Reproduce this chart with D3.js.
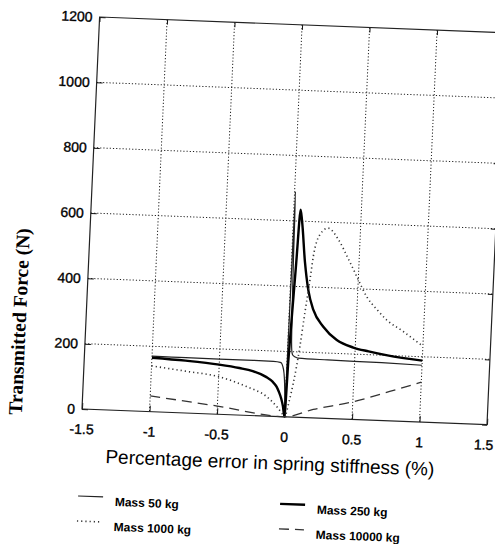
<!DOCTYPE html>
<html>
<head>
<meta charset="utf-8">
<script src="https://cdn.jsdelivr.net/npm/d3@7"></script>
<style>
body{margin:0;background:#fff;}
</style>
</head>
<body>
<svg id="chart" width="495" height="544"></svg>
<script>
var xTicks = [-1.5, -1, -0.5, 0, 0.5, 1, 1.5];
var yTicks = [0, 200, 400, 600, 800, 1000, 1200];
var xGrid = [-1, -0.5, 0, 0.5, 1];
var yGrid = [200, 400, 600, 800, 1000];

var m50X = [-1, -0.75, -0.5, -0.25, -0.1, -0.05, -0.04, -0.03, -0.018, -0.01, -0.004, 0, 0.003, 0.006, 0.014, 0.021, 0.027, 0.032, 0.04, 0.06, 0.08, 0.3, 0.7, 1];
var m50Y = [170, 169, 169, 169, 168, 166, 164, 155, 133, 100, 50, 0, 330, 690, 480, 330, 235, 203, 190, 184, 181, 179, 177, 174];

var m250X = [-1, -0.75, -0.5, -0.35, -0.25, -0.15, -0.1, -0.07, -0.05, -0.03, -0.015, 0, 0.01, 0.02, 0.035, 0.05, 0.065, 0.1, 0.134, 0.178, 0.257, 0.361, 0.486, 0.6, 0.741, 1];
var m250Y = [165, 160, 152, 144, 136, 120, 106, 92, 76, 55, 32, 0, 175, 295, 465, 635, 600, 475, 390, 330, 280, 241, 220, 210, 200, 188];

var m1000X = [-1, -0.75, -0.5, -0.29, -0.14, -0.06, -0.02, 0, 0.03, 0.054, 0.09, 0.116, 0.143, 0.16, 0.2, 0.26, 0.34, 0.42, 0.495, 0.568, 0.65, 0.724, 0.85, 1];
var m1000Y = [140, 128, 115, 88, 60, 30, 10, 0, 50, 104, 215, 320, 422, 494, 560, 582, 548, 490, 432, 377, 338, 308, 275, 232];

var m10000X = [-1, -0.5, 0, 0.21, 0.5, 0.77, 1];
var m10000Y = [48, 25, 0, 26, 54, 90, 122];

var names = ["Mass 50 kg", "Mass 250 kg", "Mass 1000 kg", "Mass 10000 kg"];

var series = [
    {name: names[0], xs: m50X, ys: m50Y, color: "#222", width: 1.2, dash: null},
    {name: names[1], xs: m250X, ys: m250Y, color: "#000", width: 2.4, dash: null},
    {name: names[2], xs: m1000X, ys: m1000Y, color: "#333", width: 1.6, dash: "1.2,3"},
    {name: names[3], xs: m10000X, ys: m10000Y, color: "#333", width: 1.3, dash: "10,6"}
];

var svg = d3.select("#chart");
var pLeft = 82, pTop = 17, pW = 405, pH = 392;

// la page scannée est un peu de travers
var root = svg.append("g")
    .attr("transform", "matrix(1,0.0388,-0.0449,1,18.36,-3.18)");

var x = d3.scaleLinear().domain([-1.5, 1.5]).range([pLeft, pLeft + pW]);
var y = d3.scaleLinear().domain([0, 1200]).range([pTop + pH, pTop]);

// grille pointillée
root.selectAll(".vgrid").data(xGrid).enter().append("line")
    .attr("class", "vgrid")
    .attr("x1", function(d) { return x(d); })
    .attr("x2", function(d) { return x(d); })
    .attr("y1", pTop).attr("y2", pTop + pH)
    .attr("stroke", "#222").attr("stroke-width", 1)
    .attr("stroke-dasharray", "1.2,2");

root.selectAll(".hgrid").data(yGrid).enter().append("line")
    .attr("class", "hgrid")
    .attr("y1", function(d) { return y(d); })
    .attr("y2", function(d) { return y(d); })
    .attr("x1", pLeft).attr("x2", pLeft + pW)
    .attr("stroke", "#222").attr("stroke-width", 1)
    .attr("stroke-dasharray", "1.2,2");

// axes (ticks vers l'intérieur)
var axB = root.append("g").attr("transform", "translate(0," + (pTop + pH) + ")")
    .call(d3.axisBottom(x).tickValues(xTicks).tickSizeInner(-6).tickSizeOuter(0).tickPadding(15)
        .tickFormat(function(d) { return d; }));
var axL = root.append("g").attr("transform", "translate(" + pLeft + ",0)")
    .call(d3.axisLeft(y).tickValues(yTicks).tickSizeInner(-6).tickSizeOuter(0).tickPadding(7)
        .tickFormat(function(d) { return d; }));
var axT = root.append("g").attr("transform", "translate(0," + pTop + ")")
    .call(d3.axisTop(x).tickValues(xTicks).tickSizeInner(-5).tickSizeOuter(0).tickFormat(""));
var axR = root.append("g").attr("transform", "translate(" + (pLeft + pW) + ",0)")
    .call(d3.axisRight(y).tickValues(yTicks).tickSizeInner(-5).tickSizeOuter(0).tickFormat(""));

[axB, axL, axT, axR].forEach(function(a) {
    a.select(".domain").remove();
    a.selectAll("line").attr("stroke", "#111").attr("stroke-width", 1);
    a.selectAll("text")
        .attr("font-family", "'Liberation Sans', Arial, sans-serif")
        .attr("font-size", 14)
        .attr("fill", "#000")
        .attr("stroke", "#000").attr("stroke-width", 0.35);
});
// le 1.5 de droite touche le bord du scan
axB.selectAll(".tick text").filter(function(d) { return d === 1.5; }).attr("dx", -3);

root.append("rect")
    .attr("x", pLeft).attr("y", pTop).attr("width", pW).attr("height", pH)
    .attr("fill", "none").attr("stroke", "#222").attr("stroke-width", 1.2);

// courbes
var line = d3.line()
    .x(function(d) { return x(d[0]); })
    .y(function(d) { return y(d[1]); })
    .curve(d3.curveMonotoneX);

series.forEach(function(s) {
    var pts = s.xs.map(function(v, i) { return [v, s.ys[i]]; });
    root.append("path")
        .datum(pts)
        .attr("d", line)
        .attr("fill", "none")
        .attr("stroke", s.color)
        .attr("stroke-width", s.width)
        .attr("stroke-linejoin", "round")
        .attr("stroke-dasharray", s.dash);
});

// titres
root.append("text")
    .attr("x", 272).attr("y", 462)
    .attr("text-anchor", "middle")
    .attr("font-family", "'Liberation Sans', Arial, sans-serif")
    .attr("font-size", 19)
    .attr("fill", "#000")
    .text("Percentage error in spring stiffness (%)");

root.append("text")
    .attr("transform", "translate(22,324) rotate(-90)")
    .attr("text-anchor", "middle")
    .attr("font-family", "'Liberation Serif', 'Times New Roman', serif")
    .attr("font-weight", "bold")
    .attr("font-size", 19.5)
    .attr("fill", "#000")
    .text("Transmitted Force (N)");

// légende
var legPos = [[82, 496], [284, 496], [82, 521], [284, 521]];
var legend = root.selectAll(".leg").data(series).enter().append("g")
    .attr("class", "leg")
    .attr("transform", function(d, i) { return "translate(" + legPos[i][0] + "," + legPos[i][1] + ")"; });

legend.append("line")
    .attr("x1", 0).attr("x2", 25).attr("y1", 0).attr("y2", 0)
    .attr("stroke", function(d) { return d.color; })
    .attr("stroke-width", function(d) { return d.width; })
    .attr("stroke-dasharray", function(d) { return d.dash; });

legend.append("text")
    .attr("x", 37).attr("y", 8.5)
    .attr("font-family", "'Liberation Sans', Arial, sans-serif")
    .attr("font-weight", "bold")
    .attr("font-size", 12)
    .attr("fill", "#000")
    .text(function(d) { return d.name; });
</script>
</body>
</html>
